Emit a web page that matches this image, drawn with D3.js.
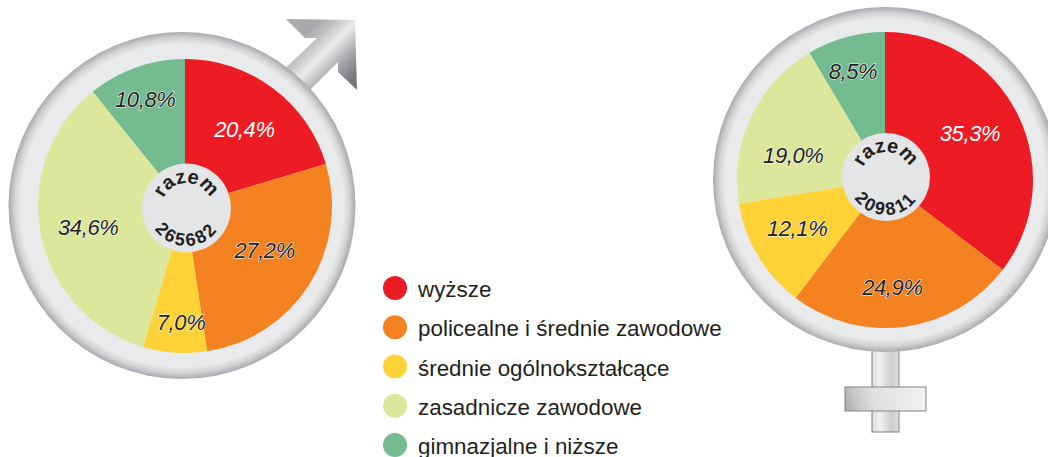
<!DOCTYPE html>
<html><head><meta charset="utf-8">
<script src="https://cdn.jsdelivr.net/npm/d3@7"></script>
<style>html,body{margin:0;padding:0;background:#fff;overflow:hidden}svg{display:block}</style>
</head><body>
<script>
const categories = ["wyższe","policealne i średnie zawodowe","średnie ogólnokształcące","zasadnicze zawodowe","gimnazjalne i niższe"];
const menValues = [20.4,27.2,7.0,34.6,10.8];
const womenValues = [35.3,24.9,12.1,19.0,8.5];
const menTotal = "265682";
const womenTotal = "209811";
const colors = ["#ed1c24","#f58220","#ffd338","#dde79b","#75bb90"];
const labelColors = ["#fff","#231f20","#231f20","#231f20","#231f20"];
const menLabelRadius = [97,91,116,99,114], menLabelTurn = [1,-3.5,-2,-1,-1];
const womenLabelRadius = [97,107,100,95,114], womenLabelTurn = [-2.5,3.8,2.5,-10,-1];

const W=1048,H=457;
const svg=d3.select("body").append("svg").attr("width",W).attr("height",H);
const defs=svg.append("defs");
const fmt=v=>v.toFixed(1).replace(".",",")+"%";

const ring=defs.append("radialGradient").attr("id","ring");
[[0,"#e9eaec"],[.93,"#e9eaec"],[.965,"#d2d3d5"],[1,"#a7a9ac"]].forEach(s=>ring.append("stop").attr("offset",s[0]).attr("stop-color",s[1]));

function lin(id,x1,y1,x2,y2,stops){
  const g=defs.append("linearGradient").attr("id",id).attr("gradientUnits","userSpaceOnUse")
    .attr("x1",x1).attr("y1",y1).attr("x2",x2).attr("y2",y2);
  stops.forEach(s=>g.append("stop").attr("offset",s[0]).attr("stop-color",s[1]));
}
lin("arrowFill",300,40,345,85,[[0,"#a7a9ac"],[.2,"#c4c5c7"],[.42,"#ebeced"],[.7,"#a9abae"],[1,"#77787b"]]);
lin("stemFill",872,0,899,0,[[0,"#dcdddf"],[.3,"#f0f0f1"],[.75,"#cbccce"],[1,"#dfe0e1"]]);
lin("crossFill",846,411,926,387,[[0,"#a9abae"],[.15,"#c6c7c9"],[.35,"#dddee0"],[1,"#f4f4f5"]]);

svg.append("path").attr("d","M286 19L355 20L357 90L338 72L338 62L298 102L276 77L317 38L305 38Z").attr("fill","url(#arrowFill)");
svg.append("rect").attr("x",872).attr("y",340).attr("width",27).attr("height",92).attr("fill","url(#stemFill)").attr("stroke","#808285").attr("stroke-width",1);
svg.append("rect").attr("x",845).attr("y",387).attr("width",81).attr("height",24).attr("fill","url(#crossFill)").attr("stroke","#808285").attr("stroke-width",1);

function drawPie(cx,cy,ringCx,ringCy,ringR,R,disc,values,total,radii,turns){
  const g=svg.append("g");
  g.append("circle").attr("cx",ringCx).attr("cy",ringCy).attr("r",ringR).attr("fill","url(#ring)");
  const pie=d3.pie().sort(null)(values);
  const arc=d3.arc().innerRadius(0).outerRadius(R);
  const p=g.append("g").attr("transform",`translate(${cx},${cy})`);
  p.selectAll("path").data(pie).join("path").attr("d",arc).attr("fill",(d,i)=>colors[i]);
  p.selectAll("text").data(pie).join("text")
    .attr("transform",(d,i)=>{const a=(d.startAngle+d.endAngle)/2+turns[i]*Math.PI/180;
      return `translate(${radii[i]*Math.sin(a)},${-radii[i]*Math.cos(a)})`;})
    .attr("text-anchor","middle").attr("dy","0.36em")
    .attr("font-family","Liberation Sans").attr("font-style","italic").attr("font-size",22).attr("letter-spacing",-0.4)
    .attr("fill",(d,i)=>labelColors[i])
    .attr("stroke",(d,i)=>i?"#fff":"none").attr("stroke-width",1).attr("paint-order","stroke")
    .text((d,i)=>fmt(values[i]));
  const dx=disc.x,dy=disc.y;
  g.append("circle").attr("cx",dx).attr("cy",dy).attr("r",disc.r).attr("fill","#e4e5e7");
  const id=total;
  const rt=25,rb=38;
  defs.append("path").attr("id","t"+id).attr("d",`M${dx-rt} ${dy}A${rt} ${rt} 0 0 1 ${dx+rt} ${dy}`);
  defs.append("path").attr("id","b"+id).attr("d",`M${dx-rb} ${dy}A${rb} ${rb} 0 0 0 ${dx+rb} ${dy}`);
  g.append("text").attr("font-family","Liberation Sans").attr("font-weight","bold").attr("font-size",20).attr("fill","#231f20")
    .append("textPath").attr("href","#t"+id).attr("startOffset","50%").attr("text-anchor","middle").text("razem");
  g.append("text").attr("font-family","Liberation Sans").attr("font-weight","bold").attr("font-size",18).attr("letter-spacing",2.5).attr("fill","#231f20")
    .append("textPath").attr("href","#b"+id).attr("startOffset","50%").attr("text-anchor","middle").text(total);
}
drawPie(185,206,182,205.5,173.5,147,{x:186.5,y:208,r:44.5},menValues,menTotal,menLabelRadius,menLabelTurn);
drawPie(885,180,885.5,179.5,172.5,148,{x:886,y:177,r:44},womenValues,womenTotal,womenLabelRadius,womenLabelTurn);

const rowY=d3.scalePoint().domain(categories).range([288,445]);
const leg=svg.append("g").selectAll("g").data(categories).join("g").attr("transform",d=>`translate(0,${rowY(d)})`);
leg.append("circle").attr("cx",395).attr("r",12).attr("fill",(d,i)=>colors[i]);
leg.append("text").attr("x",418).attr("y",1).attr("dy","0.36em").attr("font-family","Liberation Sans").attr("font-size",22.4).attr("fill","#231f20").text(d=>d);
</script>
</body></html>
